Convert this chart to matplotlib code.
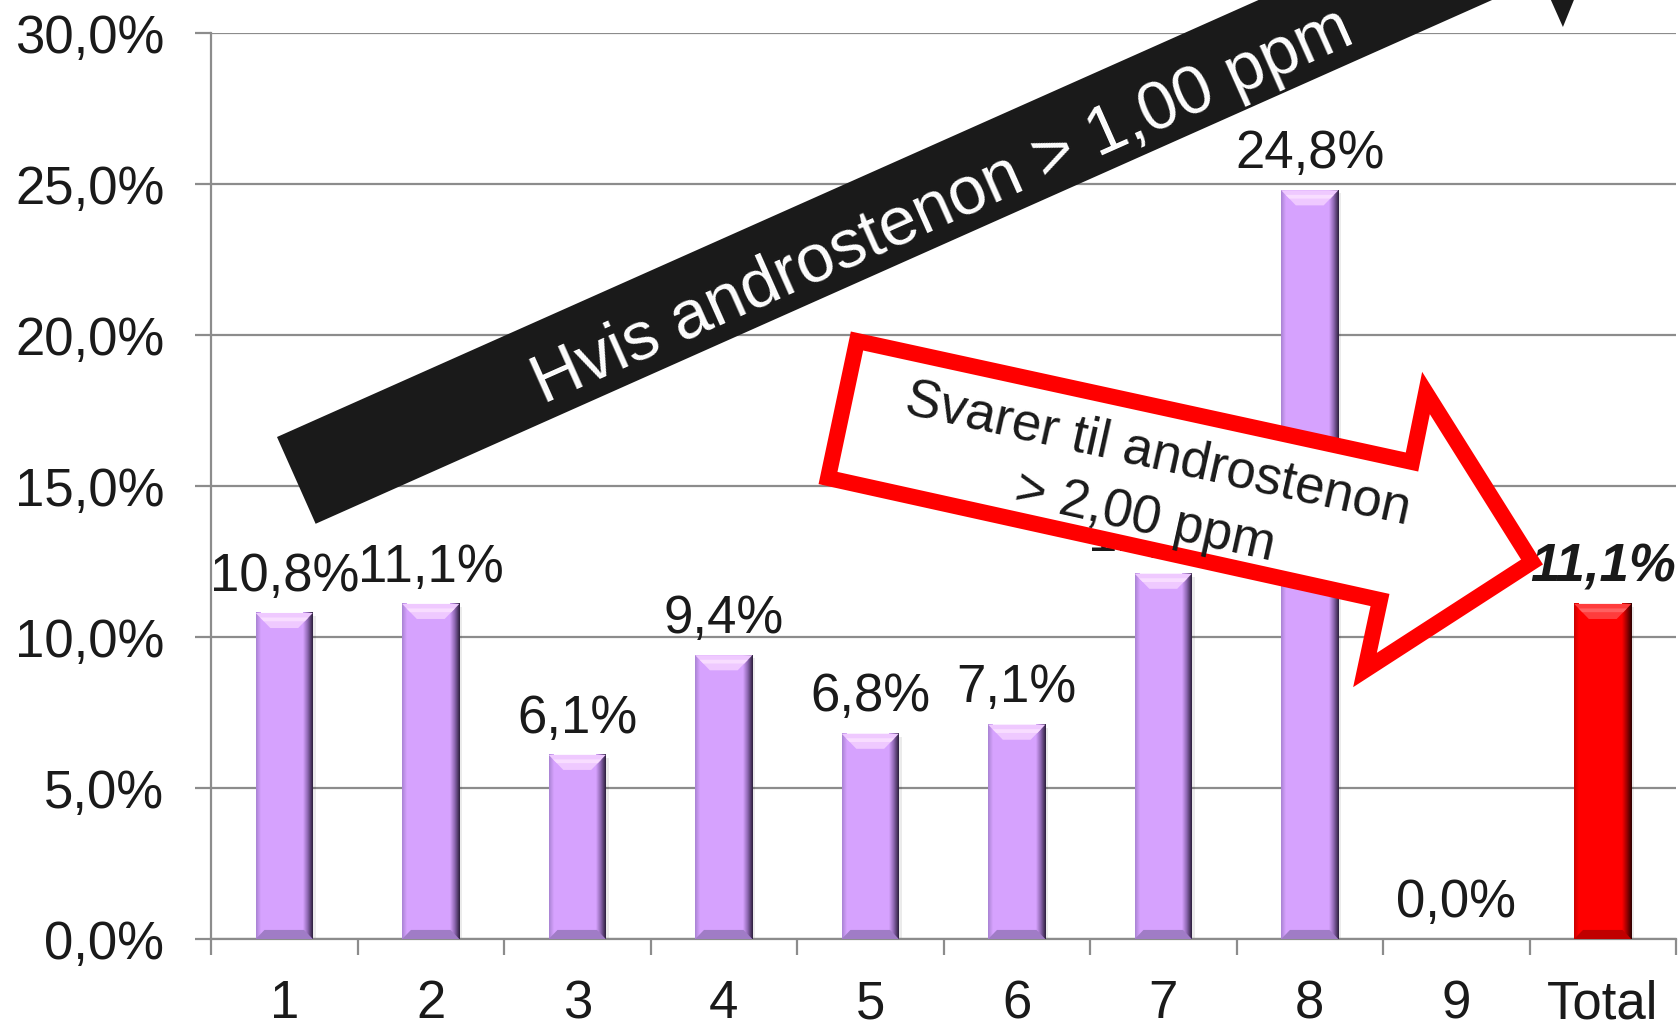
import numpy as np
import matplotlib
matplotlib.use('Agg')
import matplotlib.pyplot as plt
from matplotlib.patches import Polygon
from matplotlib.colors import LinearSegmentedColormap

# ---------------- data ----------------
categories = ['1', '2', '3', '4', '5', '6', '7', '8', '9', 'Total']
values = [10.8, 11.1, 6.1, 9.4, 6.8, 7.1, 12.1, 24.8, 0.0, 11.1]
is_total = [False] * 9 + [True]
yticks = [0, 5, 10, 15, 20, 25, 30]
ytick_labels = ['0,0%', '5,0%', '10,0%', '15,0%', '20,0%', '25,0%', '30,0%']
arrow1_text = 'Hvis androstenon > 1,00 ppm'
arrow2_lines = ['Svarer til androstenon', '> 2,00 ppm']

# ---------------- style ----------------
plt.rcParams['font.family'] = ['Liberation Sans', 'DejaVu Sans']
W, H = 1679, 1024
TXT = '#1a1a1a'
GRID = '#8c8c8c'
FS = 38

fig = plt.figure(figsize=(W / 100, H / 100), dpi=100)
ax = fig.add_axes([211 / W, (H - 939) / H, (1676 - 211) / W, (939 - 33.3) / H])

bar_w = 0.39
bx, by = 0.10, 0.5     # top bevel size in data units
bby = 0.3              # bottom bevel height

purple = dict(body='#D6A2FE', top='#EFC9FF', topl='#F8DDFF', dark='#2a1d3a', mid='#8a64ad',
              left='#A882D2', bottom='#A07CC6')
red = dict(body='#FF0000', top='#FF3C3C', topl='#FF6060', dark='#2a0000', mid='#9a0000',
           left='#C80000', bottom='#C00000')


def fancy_bar(x, v, c):
    if v <= 0:
        return
    x0, x1 = x - bar_w / 2, x + bar_w / 2
    # soft shadow
    ax.bar(x + 0.02, v, bar_w, bottom=-0.1, color='#000000', alpha=0.08, zorder=2.5, linewidth=0)
    ax.bar(x, v, bar_w, color=c['body'], zorder=3, linewidth=0)
    grad = np.linspace(0, 1, 128).reshape(1, -1)
    cm_r = LinearSegmentedColormap.from_list('r', [c['body'], c['mid'], c['dark']])
    ax.imshow(grad, extent=[x1 - 0.065, x1, 0, v], cmap=cm_r, aspect='auto',
              zorder=3.1, interpolation='bilinear')
    cm_l = LinearSegmentedColormap.from_list('l', [c['left'], c['body']])
    ax.imshow(grad, extent=[x0, x0 + 0.03, 0, v], cmap=cm_l, aspect='auto',
              zorder=3.1, interpolation='bilinear')
    ax.add_patch(Polygon([(x0, v), (x1, v), (x1 - bx, v - by), (x0 + bx, v - by)],
                         closed=True, facecolor=c['top'], edgecolor='none', zorder=3.2))
    ax.add_patch(Polygon([(x0 + bx * 0.3, v - by * 0.3), (x1 - bx * 0.3, v - by * 0.3),
                          (x1 - bx * 0.55, v - by * 0.55), (x0 + bx * 0.55, v - by * 0.55)],
                         closed=True, facecolor=c['topl'], edgecolor='none', zorder=3.3))
    ax.add_patch(Polygon([(x0, 0), (x1, 0), (x1 - bx * 0.6, bby), (x0 + bx * 0.6, bby)],
                         closed=True, facecolor=c['bottom'], edgecolor='none', zorder=3.2))


for i, v in enumerate(values):
    c = red if is_total[i] else purple
    fancy_bar(i, v, c)
    lab = f'{v:.1f}%'.replace('.', ',')
    if is_total[i]:
        ax.annotate(lab, (i, v), xytext=(0, 16), textcoords='offset points', ha='center',
                    va='baseline', fontsize=FS, color=TXT, fontweight='bold', fontstyle='italic',
                    zorder=5)
    else:
        ax.annotate(lab, (i, v), xytext=(0, 16), textcoords='offset points', ha='center',
                    va='baseline', fontsize=FS, color=TXT, zorder=5)

ax.set_xlim(-0.5, len(categories) - 0.5)
ax.set_ylim(0, 30)
ax.set_yticks(yticks, ytick_labels)
ax.set_xticks(range(len(categories)), categories)
ax.set_xticks(np.arange(-0.5, len(categories)), minor=True)

ax.yaxis.grid(True, color=GRID, linewidth=1.6, zorder=0)
ax.set_axisbelow(True)
for s in ['top', 'right']:
    ax.spines[s].set_visible(False)
for s in ['left', 'bottom']:
    ax.spines[s].set_color(GRID)
    ax.spines[s].set_linewidth(1.6)

ax.tick_params(axis='y', length=11.5, width=1.6, color=GRID, pad=22, labelsize=FS, labelcolor=TXT)
ax.tick_params(axis='x', which='major', length=0, pad=29, labelsize=FS, labelcolor=TXT)
ax.tick_params(axis='x', which='minor', length=11.5, width=1.6, color=GRID)


def fig_pts(pts):
    return [(px / W, 1 - py / H) for px, py in pts]


# ---------------- black arrow ----------------
ang = np.deg2rad(24)
u = np.array([np.cos(ang), -np.sin(ang)])
nv = np.array([np.sin(ang), np.cos(ang)])
P0 = np.array([277.0, 437.0])
band, t_head, barb, head_len = 95.0, 1341.5, 53.5, 105.0
blk = [P0,
       P0 + t_head * u,
       P0 + t_head * u - barb * nv,
       P0 + (t_head + head_len) * u + band / 2 * nv,
       P0 + t_head * u + (band + barb) * nv,
       P0 + t_head * u + band * nv,
       P0 + band * nv]
fig.add_artist(Polygon(fig_pts(blk), closed=True, transform=fig.transFigure,
                       facecolor='#1a1a1a', edgecolor='none', zorder=10))
tc = P0 + 702 * u + 60 * nv
fig.text(tc[0] / W, 1 - tc[1] / H, arrow1_text, rotation=24, rotation_mode='anchor',
         ha='center', va='center', color='white', fontsize=49, zorder=11)

# ---------------- red arrow ----------------
red_pts = [(857, 341), (1412, 462), (1426, 393), (1532, 562), (1365, 670), (1380, 600), (828, 478)]
fig.add_artist(Polygon(fig_pts(red_pts), closed=True, transform=fig.transFigure,
                       facecolor='white', edgecolor='#FF0000', linewidth=11.5,
                       joinstyle='miter', zorder=12))
for (cx, cy), line in zip([(1158, 455), (1145, 518)], arrow2_lines):
    fig.text(cx / W, 1 - cy / H, line, rotation=-12.5, rotation_mode='anchor',
             ha='center', va='center', color=TXT, fontsize=FS, zorder=13)

fig.savefig('out.png', dpi=100)
